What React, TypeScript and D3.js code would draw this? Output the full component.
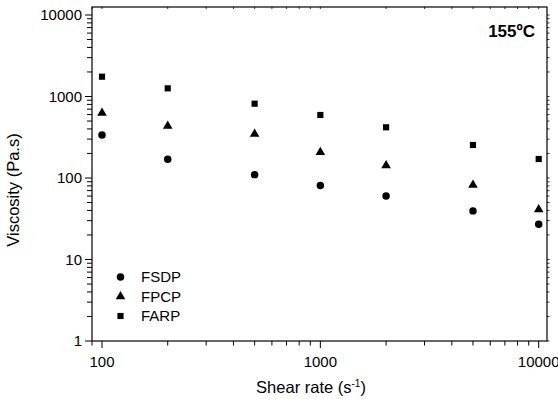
import React from "react";
import * as d3 from "d3";

const shearRates = [100, 200, 500, 1000, 2000, 5000, 10000];
const fsdp = [337, 170, 110, 81, 60, 39.5, 27];
const fpcp = [627, 434, 347, 207, 142, 82, 41];
const farp = [1750, 1260, 816, 593, 419, 254, 171];
const seriesNames = ["FSDP", "FPCP", "FARP"];
const xTickLabels = [100, 1000, 10000];
const yTickLabels = [1, 10, 100, 1000, 10000];

const W = 558, H = 399;
const L = 92, R = 547, T = 7, B = 341;

export default function App() {
  const x = d3.scaleLog().domain([100, 10000]).range([102, 538.7]);
  const y = d3.scaleLog().domain([1, 10000]).range([341, 15]);
  const font = "Arial, 'Liberation Sans', sans-serif";

  const xMinor: number[] = [];
  for (let d = 100; d <= 10000; d *= 10)
    for (let k = 1; k < 10; k++) {
      const v = d * k;
      if (x(v) >= L - 0.5 && x(v) <= R + 0.5) xMinor.push(v);
    }
  const xMinorExtra = [90];
  const yMinor: number[] = [];
  for (let d = 1; d <= 10000; d *= 10)
    for (let k = 1; k < 10; k++) {
      const v = d * k;
      if (y(v) >= T - 0.5 && y(v) <= B + 0.5) yMinor.push(v);
    }

  const symCircle = d3.symbol().type(d3.symbolCircle).size(44)();
  const symTri = d3.symbol().type(d3.symbolTriangle).size(40)();
  const symSq = d3.symbol().type(d3.symbolSquare).size(38)();
  const symbols = [symCircle, symTri, symSq];
  const series = [fsdp, fpcp, farp];

  return (
    <svg width={W} height={H} style={{ position: "absolute", left: 0, top: 0 }}>
      <rect x={0} y={0} width={W} height={H} fill="white" />
      <rect x={L} y={T} width={R - L} height={B - T} fill="none" stroke="black" strokeWidth={1.2} />
      {[...xMinorExtra, ...xMinor].map((v, i) => {
        const major = xTickLabels.includes(v);
        return <line key={"bx" + i} x1={x(v)} x2={x(v)} y1={B} y2={B + (major ? 7 : 4.5)} stroke="black" strokeWidth={1} />;
      })}
      {[...xMinorExtra, ...xMinor].map((v, i) => (
        <line key={"tx" + i} x1={x(v)} x2={x(v)} y1={T} y2={T + 2} stroke="black" strokeWidth={0.8} />
      ))}
      {yMinor.map((v, i) => {
        const major = yTickLabels.includes(v);
        return <line key={"ly" + i} x1={L - (major ? 7 : 5)} x2={L} y1={y(v)} y2={y(v)} stroke="black" strokeWidth={1} />;
      })}
      {yMinor.map((v, i) => (
        <line key={"ry" + i} x1={R} x2={R + 2.5} y1={y(v)} y2={y(v)} stroke="black" strokeWidth={0.8} />
      ))}
      {xTickLabels.map((v) => (
        <text key={"xl" + v} x={x(v)} y={367} textAnchor="middle" fontFamily={font} fontSize={15}>{v}</text>
      ))}
      {yTickLabels.map((v) => (
        <text key={"yl" + v} x={82} y={y(v) + 5} textAnchor="end" fontFamily={font} fontSize={15}>{v}</text>
      ))}
      <text x={311} y={393} textAnchor="middle" fontFamily={font} fontSize={16.5}>
        Shear rate (s<tspan dy={-6} fontSize={10}>-1</tspan><tspan dy={6}>)</tspan>
      </text>
      <text transform={`translate(19,${190}) rotate(-90)`} textAnchor="middle" fontFamily={font} fontSize={16.5}>
        Viscosity (Pa.s)
      </text>
      <text x={535} y={37} textAnchor="end" fontFamily={font} fontSize={17} fontWeight="bold">155ºC</text>
      {series.map((s, si) =>
        s.map((v, i) => (
          <path key={si + "-" + i} d={symbols[si] as string} transform={`translate(${x(shearRates[i])},${y(v)})`} fill="black" />
        ))
      )}
      {seriesNames.map((n, i) => (
        <g key={n}>
          <path d={symbols[i] as string} transform={`translate(120.5,${277 + i * 19.5})`} fill="black" />
          <text x={141} y={277 + i * 19.5 + 5} fontFamily={font} fontSize={15}>{n}</text>
        </g>
      ))}
    </svg>
  );
}
